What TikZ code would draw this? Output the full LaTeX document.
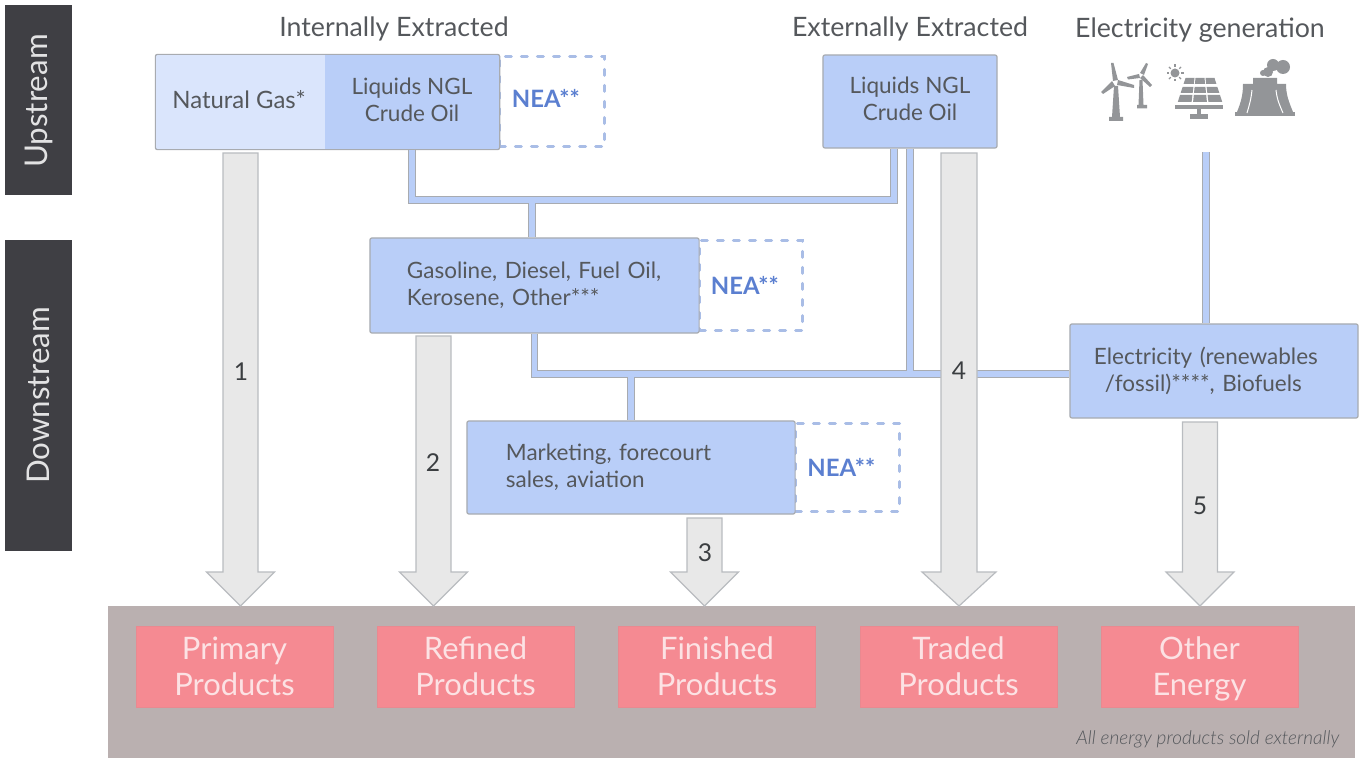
\documentclass[tikz,border=0pt]{standalone}
\usepackage{fontspec}
\setmainfont{Lato}[ItalicFont=* Light Italic,BoldFont=* Bold]
\usetikzlibrary{calc, positioning}
\definecolor{blueA}{HTML}{B9CEF8}
\definecolor{blueB}{HTML}{DAE5FC}
\definecolor{blueD}{HTML}{A9BDE6}
\definecolor{neaC}{HTML}{5B7FD0}
\definecolor{edgeC}{HTML}{A8ABB0}
\definecolor{iconC}{HTML}{939598}
\definecolor{greyA}{HTML}{E8E8E8}
\definecolor{darkC}{HTML}{3F3F44}
\definecolor{panelC}{HTML}{BAB0B0}
\definecolor{redC}{HTML}{F58A92}
\definecolor{textC}{HTML}{55585C}
\tikzset{
  boxA/.style={draw=edgeC, line width=.012cm, rounded corners=.02cm, fill=blueA, text=textC,
    inner sep=0pt, align=center, font=\fontsize{6.4}{7.7}\selectfont},
  neabox/.style={draw=blueD, line width=.03cm, line cap=round, dash pattern=on .06cm off .1cm, text=neaC,
    inner sep=0pt, text width=.8cm, align=left, font=\fontsize{6.8}{7.7}\selectfont\bfseries},
  sidebox/.style={fill=darkC, inner sep=0pt, minimum width=1.9cm, minimum height=.67cm,
    text=white!85!darkC, rotate=90, font=\fontsize{8.9}{10}\selectfont},
  redbox/.style={draw=redC!90!gray, line width=.008cm, fill=redC, inner sep=0pt, minimum width=1.97cm,
    minimum height=.81cm, text=white!75!redC, align=center, font=\fontsize{8.8}{10.2}\selectfont},
  headtext/.style={text=textC, inner sep=0pt, font=\fontsize{7.6}{9}\selectfont},
  numtext/.style={text=textC!70!black, inner sep=0pt, font=\fontsize{7}{8}\selectfont},
  bigarrow/.style={draw=edgeC!80, line width=.012cm, fill=greyA},
  icon/.style={fill=iconC, draw=none},
}
\newcommand{\fatarrow}[4]{% start, tip, half shaft, half head
  \draw[bigarrow] ($(#1)+(-#3,0)$) -- ($(#1)+(#3,0)$) -- ($(#2)+(#3,-34)$) -- ($(#2)+(#4,-34)$) -- (#2)
    -- ($(#2)+(-#4,-34)$) -- ($(#2)+(-#3,-34)$) -- cycle;
}
\begin{document}
\begin{tikzpicture}[x=.01cm,y=-.01cm]
\useasboundingbox (0,0) rectangle (1360,758);
% side labels
\node[sidebox] (up) at (38.5,100) {Upstream\hspace*{.02cm}};
\node[sidebox, minimum width=3.11cm] (down) at (38.5,395.5) {Downstream};
% bottom panel
\fill[panelC] (108,606) rectangle (1355,758);
\node[redbox] (prim) at (234.5,666.5) {Primary\\Products};
\node[redbox] (refi) at (475.5,666.5) {Refined\\Products};
\node[redbox] (fini) at (717,666.5) {Finished\\Products};
\node[redbox] (trad) at (958.5,666.5) {Traded\\Products};
\node[redbox] (othe) at (1199.5,666.5) {\rule{0pt}{.28cm}Other\\Energy};
\node[anchor=east, inner sep=0pt, text=textC, font=\fontsize{5.4}{6}\selectfont\itshape] (note) at (1340,739) {All energy products sold externally};
% column heads
\node[headtext] (intl) at (394,29) {Internally Extracted};
\node[headtext] (extl) at (910,29) {Externally Extracted};
\node[headtext] (gen) at (1200,30) {Electricity generation};
% dashed NEA boxes
\node[neabox, minimum width=1.05cm, minimum height=.9cm] (neaA) at (552,101.5) {\raisebox{.06cm}{NEA**}};
\node[neabox, minimum width=1.03cm, minimum height=.9cm] (neaB) at (751,285.5) {\raisebox{.01cm}{NEA**}};
\node[neabox, minimum width=1.04cm, minimum height=.88cm] (neaC) at (847.5,467.5) {NEA**};
% blue boxes
\node[boxA, draw=none, fill=blueB, rounded corners=0pt, minimum width=1.69cm, minimum height=.94cm, font=\fontsize{6.8}{7.7}\selectfont] (gas) at (240.5,102) {\raisebox{.04cm}{Natural Gas*\hspace*{.03cm}}};
\node[boxA, draw=none, rounded corners=0pt, minimum width=1.74cm, minimum height=.94cm] (liq) at (412,102) {Liquids NGL\\Crude Oil\rule[-.05cm]{0pt}{0pt}};
\draw[edgeC, line width=.012cm, rounded corners=.02cm] (gas.north west) rectangle (liq.south east);
\node[boxA, minimum width=1.74cm, minimum height=.93cm] (ext) at (910,101.5) {Liquids NGL\\Crude Oil\rule[-.05cm]{0pt}{0pt}};
\node[boxA, minimum width=3.29cm, minimum height=.95cm, text width=2.55cm, align=left] (ref) at (534.5,285.5) {Gasoline, Diesel, Fuel Oil,\\Kerosene, Other***};
\node[boxA, minimum width=3.28cm, minimum height=.93cm, text width=2.5cm, align=left] (mkt) at (631,467.5) {Marketing, forecourt\\sales, aviation};
\node[boxA, minimum width=2.88cm, minimum height=.94cm, text width=2.4cm, align=left] (elec) at (1214,371) {Electricity (renewables\\\hspace*{.11cm}/fossil)****, Biofuels};
% connectors
\coordinate (busA) at (532,200);
\coordinate (busB) at (631,374);
\coordinate (extL) at ($(ext.south)+(-16,0)$);
\coordinate (genS) at (1206,152);
\foreach \wd/\col in {.074/edgeC,.052/blueA}
  \draw[line width=\wd cm, draw=\col] (liq.south) |- (busA) -| (extL)
    (busA) -- (busA |- ref.north)
    (ref.south) |- (busB) -- (busB -| elec.west)
    (ext.south) -- (ext.south |- busB)
    (busB) -- (mkt.north)
    (genS) -- (genS |- elec.north);
% big arrows
\coordinate (sA) at (240.5,153); \coordinate (tA) at (240.5,606);
\coordinate (sB) at (433.5,336); \coordinate (tB) at (433.5,606);
\coordinate (sC) at (704.5,518); \coordinate (tC) at (704.5,606);
\coordinate (sD) at (959,153);   \coordinate (tD) at (959,606);
\coordinate (sE) at (1200,422);  \coordinate (tE) at (1200,606);
\fatarrow{sA}{tA}{17.5}{34}
\fatarrow{sB}{tB}{17.5}{34}
\fatarrow{sC}{tC}{17.5}{34}
\fatarrow{sD}{tD}{18}{37}
\fatarrow{sE}{tE}{17.5}{34}
\node[numtext] (n1) at (241,372) {1};
\node[numtext] (n2) at (433,463) {2};
\node[numtext] (n3) at (705,553) {3};
\node[numtext] (n4) at (959,371) {4};
\node[numtext] (n5) at (1200,506) {5};
% wind turbines
\fill[icon] (1114,86) -- (1118,86) -- (1120,117) -- (1123,117) -- (1123,121) -- (1109,121) -- (1109,117) -- (1112,117) -- cycle;
\fill[icon] (1111,63) -- (1113.5,63) -- (1118,80) -- (1113,81) -- cycle;
\fill[icon] (1118,80) -- (1134,85) -- (1134,88) -- (1117,85) -- cycle;
\fill[icon] (1112,81) -- (1115,86) -- (1103,94) -- (1101,92) -- cycle;
\fill[icon] (1139.5,80) -- (1142.5,80) -- (1143.5,105) -- (1147,105) -- (1147,108.5) -- (1137,108.5) -- (1137,105) -- (1138.5,105) -- cycle;
\fill[icon] (1146,63) -- (1148,64) -- (1144,75) -- (1140,73) -- cycle;
\fill[icon] (1143,75) -- (1152,85) -- (1150,87) -- (1140,78) -- cycle;
\fill[icon] (1127,77) -- (1139,74) -- (1140,78) -- (1128,79.5) -- cycle;
% solar panel
\fill[icon] (1175,73) circle (4.5);
\foreach \ang in {0,45,...,315}
  \draw[iconC, line width=.012cm] (1175,73) ++(\ang:6) -- ++(\ang:2.5);
\foreach \ya/\yb in {78/84,87/93,95/102}
  \foreach \col in {0,1,2}
    \fill[icon] ({1200+(15+(\ya-78)/3)*(2*(\col+.05)/3-1)},\ya)
      -- ({1200+(15+(\ya-78)/3)*(2*(\col+.95)/3-1)},\ya)
      -- ({1200+(15+(\yb-78)/3)*(2*(\col+.95)/3-1)},\yb)
      -- ({1200+(15+(\yb-78)/3)*(2*(\col+.05)/3-1)},\yb) -- cycle;
\fill[icon] (1175,105) rectangle (1223,109);
\fill[icon] (1197,109) rectangle (1201,114);
\fill[icon] (1190,114) rectangle (1208,119);
% cooling tower
\fill[icon] (1235,112) rectangle (1295,116);
\fill[icon] (1237,112) .. controls (1241,102) and (1243,95) .. (1243,84) -- (1253,84) -- (1253,78) -- (1277,78)
  -- (1277,84) -- (1286,84) .. controls (1286,95) and (1289,102) .. (1293,112) -- cycle;
\draw[white, line width=.01cm] (1252,90) .. controls (1251,100) and (1249,106) .. (1247,113)
  (1276,90) .. controls (1277,100) and (1280,106) .. (1283,113);
\fill[icon] (1263,73) circle (3) (1268,72) circle (5) (1273,65) circle (6) (1283,67) circle (7);
\end{tikzpicture}
\end{document}
